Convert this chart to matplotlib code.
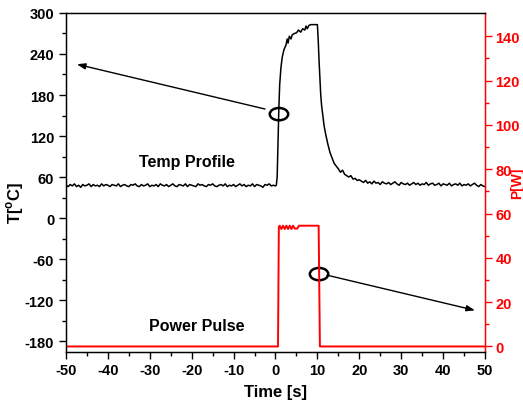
import numpy as np
import matplotlib
matplotlib.use("Agg")
import matplotlib.pyplot as plt
from matplotlib.patches import Ellipse

plt.rcParams['font.family'] = ['Liberation Sans', 'DejaVu Sans']
plt.rcParams['font.weight'] = 'bold'
plt.rcParams['axes.unicode_minus'] = False
plt.rcParams['mathtext.fontset'] = 'custom'
plt.rcParams['mathtext.rm'] = 'Liberation Sans:bold'
plt.rcParams['mathtext.bf'] = 'Liberation Sans:bold'

# temperature trace [°C]
t_pre = np.arange(-50, 0.01, 0.5)
temp_pre = [48, 46, 49, 47, 50, 46, 48, 45, 49, 47, 48, 50, 46, 49, 47, 48, 46, 50, 47, 49,
            48, 46, 49, 48, 47, 50, 46, 48, 49, 47, 46, 49, 48, 50, 47, 46, 49, 47, 48, 50,
            46, 48, 47, 49, 46, 50, 48, 47, 49, 46, 48, 50, 47, 46, 49, 48, 47, 50, 46, 49,
            48, 47, 46, 50, 48, 49, 47, 46, 49, 48, 50, 47, 46, 48, 49, 47, 50, 46, 48, 47,
            49, 46, 48, 50, 47, 49, 46, 48, 47, 50, 46, 49, 48, 47, 45, 49, 48, 50, 47, 48, 47]
t_mid = [0.2, 0.4, 0.6, 0.8, 1.0, 1.3, 1.6, 2.0, 2.5, 2.8, 3.0, 3.3, 3.7, 4.0, 4.5, 5.0,
         5.5, 6.0, 6.5, 7.0, 7.3, 7.6, 8.0, 8.5, 9.0, 9.5, 10.0, 10.2, 10.4, 10.6, 10.8,
         11.0, 11.3, 11.6, 12.0, 12.5, 13.0, 13.5, 14.0, 14.5, 15.0, 15.5, 16.0, 16.5,
         17.0, 17.5, 18.0, 18.5, 19.0, 19.5, 20.0]
temp_mid = [48, 60, 110, 160, 195, 220, 235, 246, 253, 262, 256, 266, 262, 268, 270, 271,
            275, 272, 277, 275, 281, 277, 282, 283, 283, 283, 283, 260, 230, 205, 180,
            165, 150, 135, 122, 108, 96, 88, 80, 76, 72, 67, 70, 64,
            62, 60, 62, 57, 58, 55, 56]
t_post = np.arange(20.5, 50.01, 0.5)
temp_post = [54, 52, 55, 51, 53, 50, 54, 51, 52, 49, 53, 51, 50, 52, 49, 51, 53, 50, 48, 52,
             50, 49, 51, 48, 50, 52, 49, 51, 48, 50, 49, 52, 48, 50, 51, 48, 49, 51, 47, 50,
             49, 48, 51, 47, 49, 50, 48, 51, 47, 49, 48, 50, 47, 49, 51, 48, 46, 49, 47, 46]

# power pulse [W]
t_pow = [-50, 0.6, 0.8, 1.0, 1.4, 1.8, 2.2, 2.6, 3.0, 3.4, 3.8, 4.2, 4.6, 5.2, 5.6,
         10.3, 10.6, 50]
power = [0, 0, 54, 54.5, 53, 54.5, 53, 54.5, 53, 54.5, 53, 54.5, 53.2, 53.2, 54.5,
         54.5, 0, 0]

fig = plt.figure(figsize=(5.23, 4.10), dpi=100)
ax = fig.add_axes([0.1262, 0.139, 0.8011, 0.8269])
ax2 = ax.twinx()

t_temp = np.concatenate([t_pre, t_mid, t_post])
temp = np.concatenate([temp_pre, temp_mid, temp_post])
ax.plot(t_temp, temp, color='black', lw=1.1)
ax2.plot(t_pow, power, color='red', lw=1.4)

ax.set_xlim(-50, 50)
ax.set_ylim(-196, 300)
ax2.set_ylim(-2.5, 150.5)

ax.set_xticks(np.arange(-50, 51, 10))
ax.set_xticks(np.arange(-45, 50, 10), minor=True)
ax.set_yticks(np.arange(-180, 301, 60))
ax.set_yticks(np.arange(-150, 300, 60), minor=True)
ax2.set_yticks(np.arange(0, 141, 20))
ax2.set_yticks(np.arange(10, 150, 20), minor=True)

for a in (ax, ax2):
    a.tick_params(which='major', length=5, width=1, labelsize=10.5, direction='out')
    a.tick_params(which='minor', length=3, width=1, direction='out')
ax.tick_params(axis='x', pad=3)
ax2.tick_params(axis='y', colors='red', which='both', pad=2.5)
for lab in ax.get_xticklabels() + ax.get_yticklabels() + ax2.get_yticklabels():
    lab.set_fontweight('bold')

for s in ax2.spines.values():
    s.set_linewidth(1)
ax2.spines['right'].set_color('red')

ax.set_xlabel('Time [s]', fontsize=12, fontweight='bold', labelpad=5)
ax.set_ylabel(r'T[$^{\rm o}$C]', fontsize=12, fontweight='bold')
ax.yaxis.set_label_coords(-0.096, 0.443)
ax2.set_ylabel('P[W]', fontsize=10, fontweight='bold', color='red', rotation=90)
ax2.yaxis.set_label_coords(1.0597, 0.5)

ax.text(-21.1, 82, 'Temp Profile', fontsize=11.5, fontweight='bold', ha='center', va='center')
ax.text(-18.7, -157, 'Power Pulse', fontsize=11.5, fontweight='bold', ha='center', va='center')

ax.add_patch(Ellipse((0.83, 152), 4.4, 18, fill=False, ec='black', lw=1.8, zorder=5))
ax.add_patch(Ellipse((10.4, -82), 4.4, 18, fill=False, ec='black', lw=1.8, zorder=5))
arrow = dict(arrowstyle='-|>,head_length=0.5,head_width=0.18', color='black', lw=1.0,
             shrinkA=0, shrinkB=0)
ax.annotate('', xy=(-47.4, 225), xytext=(-2.5, 159.5), arrowprops=arrow)
ax.annotate('', xy=(47.6, -135), xytext=(12.3, -83.6), arrowprops=arrow)

fig.savefig('out.png', dpi=100)
